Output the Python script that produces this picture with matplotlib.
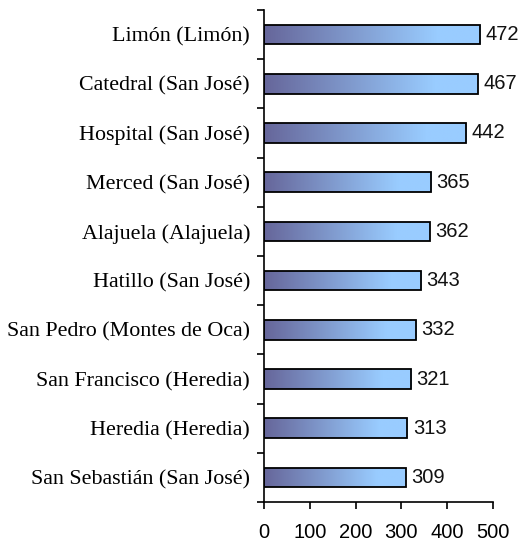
import numpy as np
import matplotlib
matplotlib.use("Agg")
import matplotlib.pyplot as plt
from matplotlib.colors import LinearSegmentedColormap

categories = ["Limón (Limón)", "Catedral (San José)", "Hospital (San José)",
              "Merced (San José)", "Alajuela (Alajuela)", "Hatillo (San José)",
              "San Pedro (Montes de Oca)", "San Francisco (Heredia)",
              "Heredia (Heredia)", "San Sebastián (San José)"]
values = [472, 467, 442, 365, 362, 343, 332, 321, 313, 309]
xticks = [0, 100, 200, 300, 400, 500]

fig = plt.figure(figsize=(5.22, 5.44), dpi=100)
ax = fig.add_axes([264/522, 1-502/544, (493-264)/522, (502-10)/544])

cmap = LinearSegmentedColormap.from_list("g", [(0, "#66669a"), (0.8, "#99ccff"), (1, "#99ccff")])
grad = np.linspace(0, 1, 256).reshape(1, -1)

n = len(categories)
ypos = np.arange(n)
bars = ax.barh(ypos, values, height=0.4, color="none", edgecolor="black", linewidth=1.3, zorder=3)
for i, (b, v) in enumerate(zip(bars, values)):
    x0, y0 = b.get_x(), b.get_y()
    w, h = b.get_width(), b.get_height()
    im = ax.imshow(grad, cmap=cmap, extent=[x0, x0 + w, y0, y0 + h], aspect="auto",
                   interpolation="bilinear", zorder=2)
    im.set_clip_path(b)
    ax.text(v + 12, ypos[i], str(v), va="center", ha="left",
            fontsize=14.5, family="Liberation Sans", color="#111111")

ax.set_xlim(0, 500)
ax.set_ylim(n - 0.5, -0.5)
ax.set_xticks(xticks)
ax.set_xticklabels([str(t) for t in xticks], fontsize=14.5, family="Liberation Sans")
ax.set_yticks(np.arange(-0.5, n, 1.0))
ax.set_yticklabels([])
ax.set_yticks(ypos, minor=True)
ax.set_yticklabels(categories, minor=True, fontsize=15.8, family="Liberation Serif")
ax.tick_params(axis="y", which="minor", length=0, pad=10)
ax.tick_params(axis="y", which="major", direction="out", length=5, width=1.2)
ax.tick_params(axis="x", direction="out", length=5, width=1.2, pad=10)
for s in ["top", "right"]:
    ax.spines[s].set_visible(False)
for s in ["left", "bottom"]:
    ax.spines[s].set_linewidth(1.2)

fig.savefig("out.png", dpi=100)
